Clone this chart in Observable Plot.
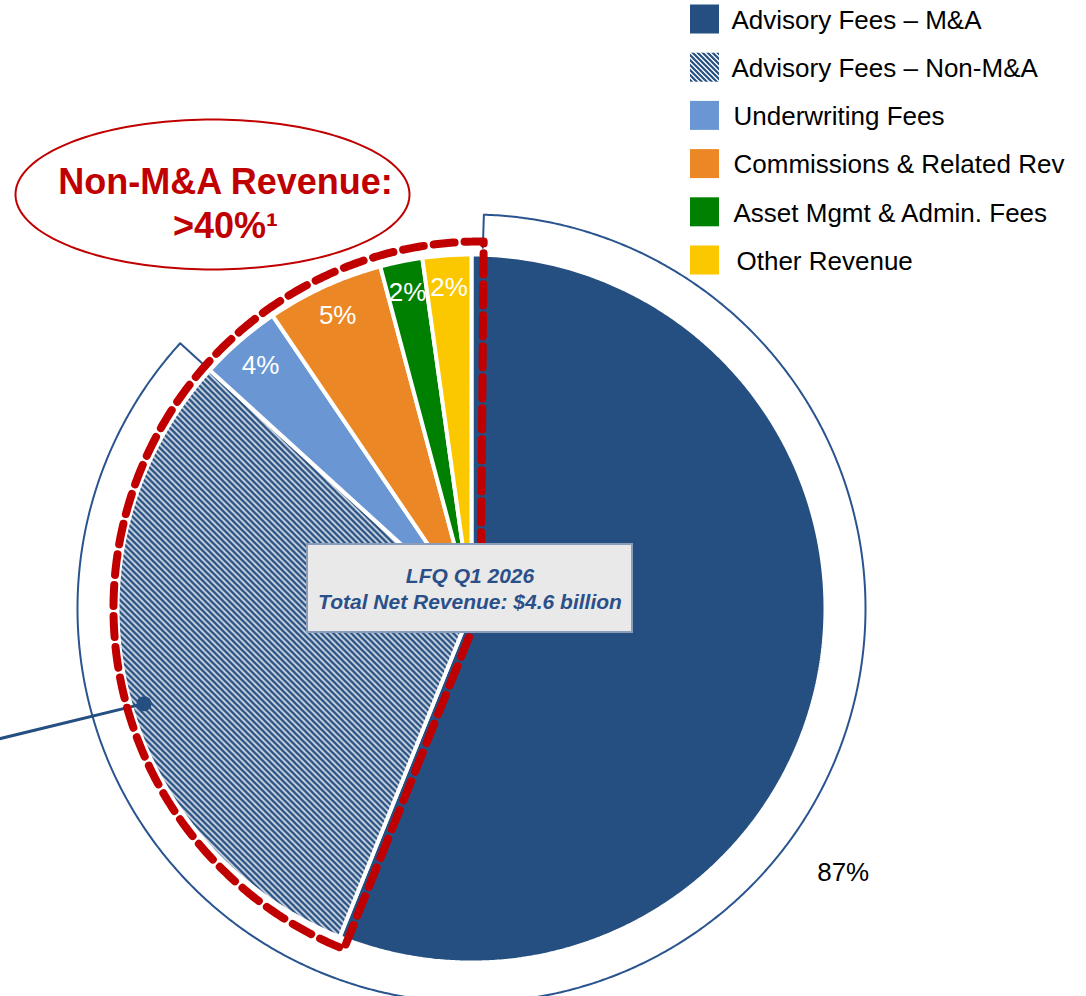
<!DOCTYPE html>
<html>
<head>
<meta charset="utf-8">
<script src="https://cdn.jsdelivr.net/npm/d3@7"></script>
<script src="https://cdn.jsdelivr.net/npm/@observablehq/plot@0.6"></script>
<style>
  html, body { margin: 0; padding: 0; background: #fff; }
  #chart svg { display: block; }
</style>
</head>
<body>
<div id="chart"></div>
<script>
// ---------- data ----------
const categories = [
  "Advisory Fees – M&A",
  "Advisory Fees – Non-M&A",
  "Underwriting Fees",
  "Commissions & Related Rev",
  "Asset Mgmt & Admin. Fees",
  "Other Revenue"
];
const shares = [56.1, 30.7, 3.75, 5.35, 1.93, 2.22];
const sliceColors = ["#254E81", "url(#hatch)", "#6A97D4", "#EB8825", "#008000", "#FBC800"];
const legendSwatches = ["#254E81", "url(#hatchSmall)", "#6A97D4", "#EB8825", "#008000", "#FBC800"];
const sliceLabels = ["", "", "4%", "5%", "2%", "2%"];
const advisoryTotalLabel = "87%";
const calloutLines = ["Non-M&A Revenue:", ">40%\u00B9"];
const boxLines = ["LFQ Q1 2026", "Total Net Revenue: $4.6 billion"];

// ---------- layout ----------
const W = 1086, H = 996;
const cx = 471, cy = 608, R = 354;
const deg = Math.PI / 180;
const FONT = "'Liberation Sans', Arial, Helvetica, sans-serif";
const BLUE = "#254E81", RED = "#C00000";

const pt = (a, r, ox = cx, oy = cy) => ({x: ox + r * Math.sin(a), y: oy - r * Math.cos(a)});
const arcPts = (a0, a1, r, ox = cx, oy = cy) => {
  const n = Math.max(2, Math.ceil(Math.abs(a1 - a0) / (0.4 * deg)));
  return d3.range(n + 1).map(i => pt(a0 + (a1 - a0) * i / n, r, ox, oy));
};

const rows = categories.map((c, i) => ({key: c, value: shares[i], color: sliceColors[i], label: sliceLabels[i]}));
const arcs = d3.pie().sort(null).value(d => d.value).startAngle(0).endAngle(2 * Math.PI)(rows);

// slice polygons
const slicePts = arcs.flatMap(a => {
  const c = {x: cx, y: cy};
  return [c, ...arcPts(a.startAngle, a.endAngle, R), c].map(p => ({...p, key: a.data.key, color: a.data.color}));
});

// slice labels
const labelPts = arcs.filter(a => a.data.label).map(a => {
  const m = (a.startAngle + a.endAngle) / 2;
  return {...pt(m, 322), text: a.data.label};
});

// outer bracket around the advisory slices (M&A + Non-M&A)
const brStart = 1.8 * deg, brEnd = arcs[1].endAngle;
const bracketPts = [pt(brStart, 361), ...arcPts(brStart, brEnd, 394), pt(brEnd, 361)];
const totalLabel = [{...pt(125.4 * deg, 456), text: advisoryTotalLabel}];

// red dashed sector around non-M&A revenue
const apex = {x: cx + 9, y: cy};
const redPts = [apex, ...arcPts(arcs[0].endAngle, 2 * Math.PI + 0.5 * deg, 367, apex.x, apex.y), apex];

// callout line with dot in the hatched slice
const dot = pt(253.8 * deg, 341);
const calloutPts = [{x: -6, y: 739.5}, dot];

// ellipse callout
const ell = {x: 212, y: 194, rx: 197, ry: 75};
const ellPts = d3.range(0, 360, 2).map(t => ({x: ell.x + ell.rx * Math.cos(t * deg), y: ell.y + ell.ry * Math.sin(t * deg)}));
const ellText = calloutLines.map((t, i) => ({x: 225, y: 181.5 + i * 44, text: t}));

// center box
const box = {x1: 307, x2: 632, y1: 544, y2: 632};
const boxText = boxLines.map((t, i) => ({x: (box.x1 + box.x2) / 2, y: 575.5 + i * 26, text: t}));

// legend
const legendRows = categories.map((c, i) => ({key: c, swatch: legendSwatches[i], yc: 19 + i * 48.2, tx: i < 2 ? 731 : i < 5 ? 733 : 736}));

const defs = () => {
  const g = document.createElementNS("http://www.w3.org/2000/svg", "defs");
  g.innerHTML = `
    <pattern id="hatch" patternUnits="userSpaceOnUse" width="6" height="6">
      <rect width="6" height="6" fill="#fff"/>
      <path d="M-1,-1 L7,7 M-1,5 L1,7 M5,-1 L7,1" stroke="${BLUE}" stroke-width="2.7"/>
    </pattern>
    <pattern id="hatchSmall" patternUnits="userSpaceOnUse" width="5" height="5">
      <rect width="5" height="5" fill="#fff"/>
      <path d="M-1,-1 L6,6 M-1,4 L1,6 M4,-1 L6,1" stroke="${BLUE}" stroke-width="2.2"/>
    </pattern>`;
  return g;
};

const chart = Plot.plot({
  width: W,
  height: H,
  margin: 0,
  x: {domain: [0, W], range: [0, W], axis: null},
  y: {domain: [0, H], range: [0, H], axis: null},
  color: {type: "identity"},
  style: {fontFamily: FONT, background: "#fff", overflow: "visible"},
  marks: [
    defs,
    // pie slices
    Plot.line(slicePts, {x: "x", y: "y", z: "key", fill: "color", stroke: "#fff", strokeWidth: 4, strokeLinejoin: "miter", curve: "linear-closed"}),
    Plot.text(labelPts, {x: "x", y: "y", text: "text", fill: "#fff", fontSize: 26, lineAnchor: "middle", textAnchor: "middle"}),
    // outer bracket
    Plot.line(bracketPts, {x: "x", y: "y", stroke: "#2A5490", strokeWidth: 2, fill: "none"}),
    Plot.text(totalLabel, {x: "x", y: "y", text: "text", fill: "#000", fontSize: 26, lineAnchor: "middle", textAnchor: "middle"}),
    // callout line + dot
    Plot.line(calloutPts, {x: "x", y: "y", stroke: BLUE, strokeWidth: 3}),
    Plot.dot([dot], {x: "x", y: "y", r: 7.5, fill: BLUE, stroke: "none"}),
    // red dashed sector
    Plot.line(redPts, {x: "x", y: "y", stroke: RED, strokeWidth: 8, strokeDasharray: "21,10", fill: "none", curve: "linear-closed"}),
    // center box
    Plot.rect([box], {x1: "x1", x2: "x2", y1: "y1", y2: "y2", fill: "#E9E9E9", stroke: "#8A9DBB", strokeWidth: 2}),
    Plot.text(boxText, {x: "x", y: "y", text: "text", fill: "#2B5089", fontSize: 21, fontWeight: "bold", fontStyle: "italic", lineAnchor: "middle", textAnchor: "middle"}),
    // ellipse callout
    Plot.line(ellPts, {x: "x", y: "y", fill: "#fff", stroke: RED, strokeWidth: 2, curve: "linear-closed"}),
    Plot.text(ellText, {x: "x", y: "y", text: "text", fill: RED, fontSize: 36, fontWeight: "bold", lineAnchor: "middle", textAnchor: "middle"}),
    // legend
    Plot.rect(legendRows, {x1: () => 690, x2: () => 719, y1: d => d.yc - 14.5, y2: d => d.yc + 14.5, fill: "swatch"}),
    Plot.text(legendRows, {x: "tx", y: d => d.yc + 1, text: "key", fill: "#000", fontSize: 26, textAnchor: "start", lineAnchor: "middle"})
  ]
});

document.getElementById("chart").appendChild(chart);
</script>
</body>
</html>
